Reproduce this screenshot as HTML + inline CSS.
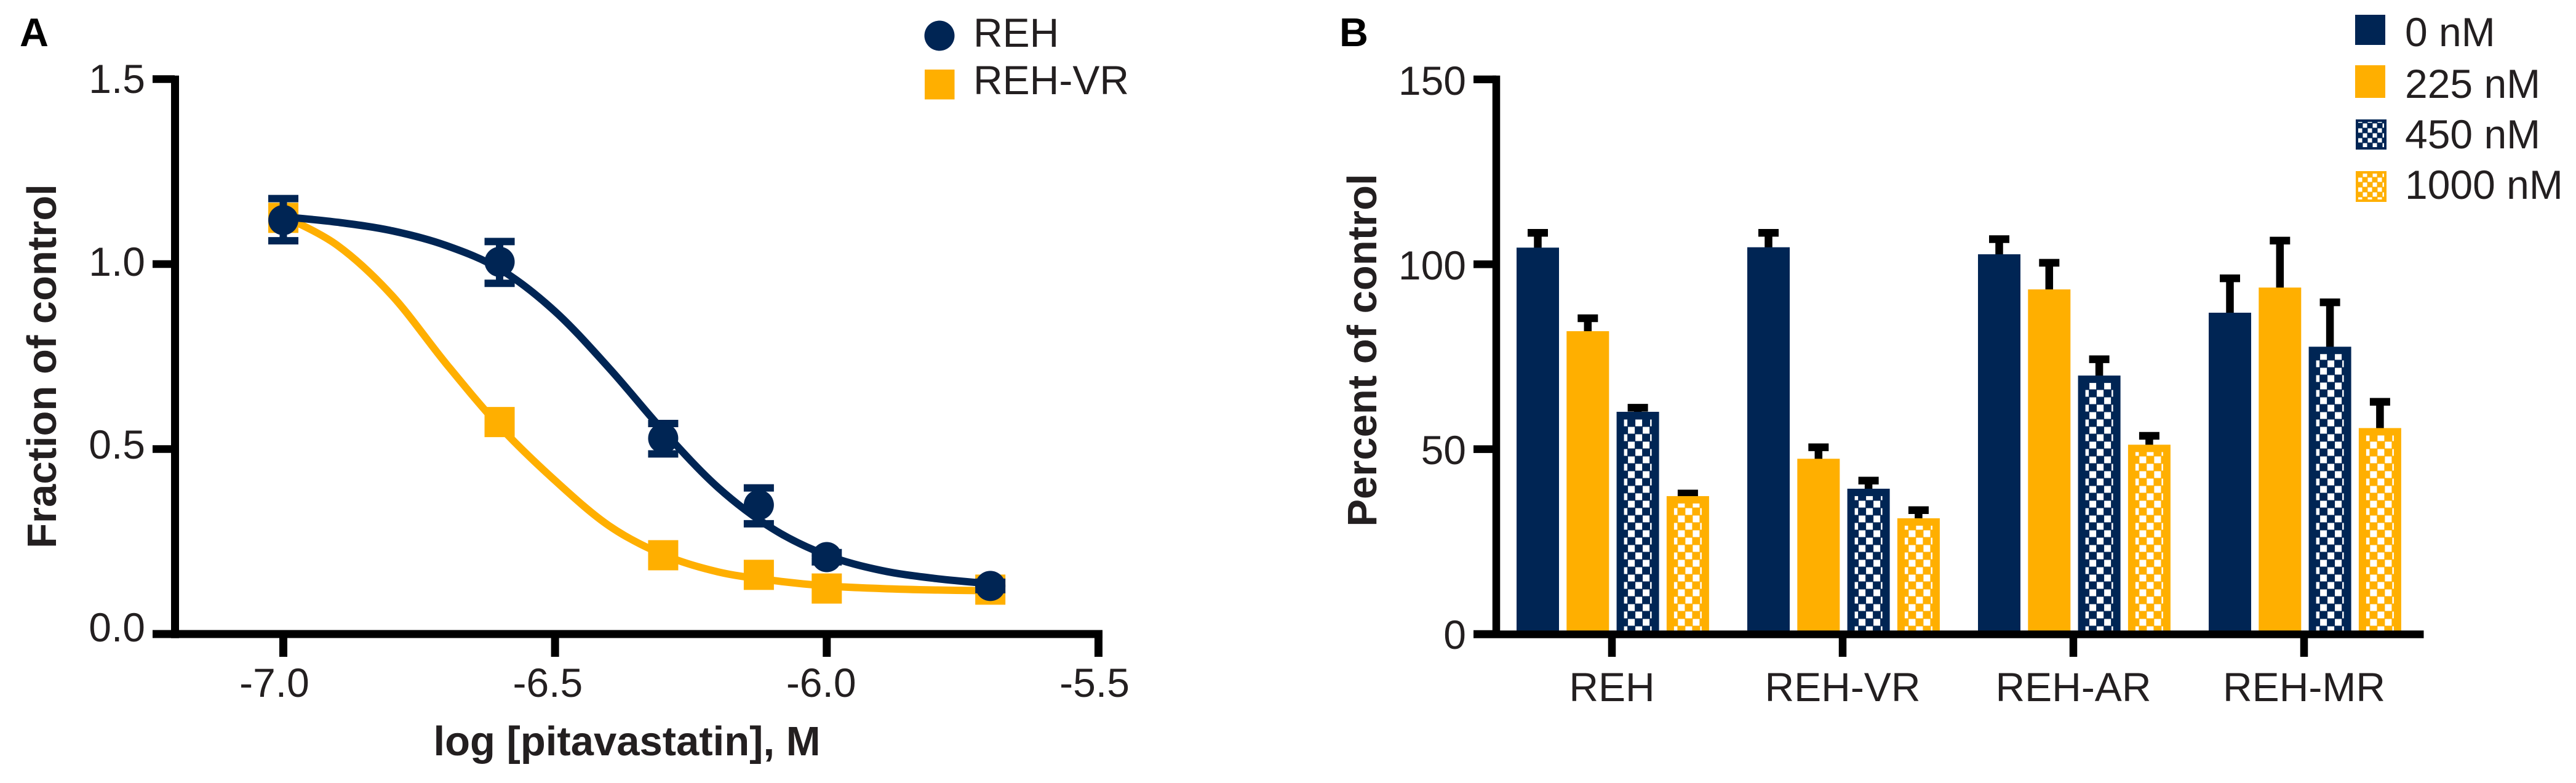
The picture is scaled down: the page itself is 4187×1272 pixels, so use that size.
<!DOCTYPE html>
<html lang="en">
<head>
<meta charset="utf-8">
<title>Pitavastatin dose response and percent of control</title>
<style>
html,body{margin:0;padding:0;background:#fff;width:4187px;height:1272px;overflow:hidden}
svg{display:block}
text{font-family:"Liberation Sans",Arial,sans-serif;fill:#231f20}
.t{font-size:66px}
.b{font-size:67px;font-weight:700}
.p{font-size:65px;font-weight:700;fill:#000}
</style>
</head>
<body>
<svg id="figure" xmlns="http://www.w3.org/2000/svg" width="4187" height="1272" viewBox="0 0 4187 1272">
  <defs>
    <pattern id="chk-navy" x="6" y="-25" width="24" height="24" patternUnits="userSpaceOnUse">
      <rect width="24" height="24" fill="#002554"/>
      <rect x="12.5" y="0.5" width="11" height="11" fill="#fff"/>
      <rect x="0.5" y="12.5" width="11" height="11" fill="#fff"/>
    </pattern>
    <pattern id="chk-orange" x="6" y="-25" width="24" height="24" patternUnits="userSpaceOnUse">
      <rect width="24" height="24" fill="#ffaf00"/>
      <rect x="12.5" y="0.5" width="11" height="11" fill="#fff"/>
      <rect x="0.5" y="12.5" width="11" height="11" fill="#fff"/>
    </pattern>
    <pattern id="chk-navy-s" x="0" y="0" width="16" height="16" patternUnits="userSpaceOnUse">
      <rect width="16" height="16" fill="#002554"/>
      <rect x="8.5" y="0.5" width="7" height="7" fill="#fff"/>
      <rect x="0.5" y="8.5" width="7" height="7" fill="#fff"/>
    </pattern>
    <pattern id="chk-orange-s" x="0" y="0" width="16" height="16" patternUnits="userSpaceOnUse">
      <rect width="16" height="16" fill="#ffaf00"/>
      <rect x="8.5" y="0.5" width="7" height="7" fill="#fff"/>
      <rect x="0.5" y="8.5" width="7" height="7" fill="#fff"/>
    </pattern>
  </defs>

  <text class="p" x="32" y="75">A</text>
  <text class="p" x="2177" y="75">B</text>

  <text class="b" transform="translate(91,595) rotate(-90)" text-anchor="middle">Fraction of control</text>
  <text class="b" x="1019" y="1227" text-anchor="middle">log [pitavastatin], M</text>
  <text class="b" transform="translate(2237,569) rotate(-90)" text-anchor="middle">Percent of control</text>

  <g>
    <circle cx="1527" cy="58" r="24.5" fill="#002554"/>
    <text class="t" x="1582" y="76">REH</text>
    <rect x="1503" y="113" width="48.5" height="48.5" fill="#ffaf00"/>
    <text class="t" x="1582" y="153">REH-VR</text>
  </g>

  <g>
    <rect x="3828" y="24" width="49" height="49" fill="#002554"/>
    <text class="t" x="3909" y="75">0 nM</text>
    <rect x="3828" y="106" width="49" height="53" fill="#ffaf00"/>
    <text class="t" x="3909" y="159">225 nM</text>
    <rect x="3829" y="194" width="50" height="49" fill="#002554"/>
    <rect x="3833" y="198" width="42" height="41" fill="url(#chk-navy-s)"/>
    <text class="t" x="3909" y="241">450 nM</text>
    <rect x="3829" y="278" width="50" height="50" fill="#ffaf00"/>
    <rect x="3833" y="282" width="42" height="42" fill="url(#chk-orange-s)"/>
    <text class="t" x="3909" y="323">1000 nM</text>
  </g>
</svg>

<script>
// ---------- Panel A data ----------
const doseLog = [-7, -6.602, -6.301, -6.125, -6, -5.699];
const rehMean = [1.119, 1.006, 0.529, 0.349, 0.208, 0.130];
const rehUpper = [1.177, 1.061, 0.569, 0.395, 0.220, 0.140];
const rehLower = [1.063, 0.948, 0.487, 0.298, 0.195, 0.120];
const vrMean = [1.125, 0.573, 0.213, 0.160, 0.123, 0.120];

const curveX = [-7, -6.9, -6.8, -6.7, -6.6, -6.5, -6.4, -6.3, -6.2, -6.1, -6, -5.9, -5.8, -5.699];
const rehCurveY = [1.128, 1.113, 1.090, 1.050, 0.985, 0.872, 0.718, 0.548, 0.396, 0.285, 0.213, 0.172, 0.150, 0.136];
const vrCurveY = [1.130, 1.050, 0.915, 0.730, 0.558, 0.415, 0.292, 0.214, 0.168, 0.145, 0.130, 0.123, 0.119, 0.117];

const xTicksA = [-7, -6.5, -6, -5.5];
const xTickLabelsA = ['-7.0', '-6.5', '-6.0', '-5.5'];
const yTicksA = [0, 0.5, 1, 1.5];
const yTickLabelsA = ['0.0', '0.5', '1.0', '1.5'];

// ---------- Panel B data ----------
const cellLines = ['REH', 'REH-VR', 'REH-AR', 'REH-MR'];
const conc0 = [104.5, 104.6, 102.7, 86.9];
const conc225 = [81.9, 47.4, 93.2, 93.7];
const conc450 = [60.1, 39.3, 69.9, 77.7];
const conc1000 = [37.3, 31.3, 51.2, 55.7];
const conc0Upper = [108.5, 108.5, 106.8, 96.2];
const conc225Upper = [85.4, 50.5, 100.4, 106.4];
const conc450Upper = [61.2, 41.5, 74.3, 89.7];
const conc1000Upper = [38.0, 33.5, 53.6, 62.8];
const yTicksB = [0, 50, 100, 150];
const yTickLabelsB = ['0', '50', '100', '150'];

// ---------- Axis functions ----------
const NAVY = '#002554', ORANGE = '#ffaf00', BLACK = '#000';
const xA = v => 460.5 + (v + 7) * 883.3;
const yA = v => 1030 - v * 601;
const xLabelA = v => 446 + (v + 7) * 888.7;
const yLabelA = v => 1042 - v * 594;
const yB = v => 1030 - v * 6.007;
const yLabelB = v => 1054 - v * 6;
const catCenter = i => 2620 + i * 375;
const barX = (i, j) => 2465 + i * 375 + j * 81.3;

const svg = document.getElementById('figure');
const NS = 'http://www.w3.org/2000/svg';
function make(tag, attrs, parent) {
  const el = document.createElementNS(NS, tag);
  for (const k in attrs) el.setAttribute(k, attrs[k]);
  (parent || svg).appendChild(el);
  return el;
}
function smooth(xs, ys) {
  const p = xs.map((x, i) => [x, ys[i]]);
  let d = 'M' + p[0][0] + ' ' + p[0][1];
  for (let i = 0; i < p.length - 1; i++) {
    const a = p[Math.max(i - 1, 0)], b = p[i], c = p[i + 1], e = p[Math.min(i + 2, p.length - 1)];
    d += ' C' + (b[0] + (c[0] - a[0]) / 6) + ' ' + (b[1] + (c[1] - a[1]) / 6) + ' ' +
         (c[0] - (e[0] - b[0]) / 6) + ' ' + (c[1] - (e[1] - b[1]) / 6) + ' ' + c[0] + ' ' + c[1];
  }
  return d;
}

// ---------- Panel A marks ----------
const gA = make('g', {});



const vrLine = make('path', {d: smooth(curveX.map(xA), vrCurveY.map(yA)), fill: 'none', stroke: ORANGE, 'stroke-width': 12}, gA);



doseLog.forEach((d, i) => {
  const s = make('rect', {x: xA(d) - 24.5, y: yA(vrMean[i]) - 24.5, width: 49, height: 49, fill: ORANGE}, gA);
  
  
});

const rehLine = make('path', {d: smooth(curveX.map(xA), rehCurveY.map(yA)), fill: 'none', stroke: NAVY, 'stroke-width': 12}, gA);



doseLog.forEach((d, i) => {
  const cx = xA(d), up = yA(rehUpper[i]), lo = yA(rehLower[i]);
  const err = make('path', {
    d: 'M' + cx + ' ' + up + 'V' + lo + 'M' + (cx - 24.5) + ' ' + up + 'H' + (cx + 24.5) + 'M' + (cx - 24.5) + ' ' + lo + 'H' + (cx + 24.5),
    fill: 'none', stroke: NAVY, 'stroke-width': 12
  }, gA);
  
  
  const c = make('circle', {cx: cx, cy: yA(rehMean[i]), r: 24.5, fill: NAVY}, gA);
  
  
});

// Panel A axes
const axisA = make('path', {d: 'M284.5 122.7V1036.7M248 1030H1792', fill: 'none', stroke: BLACK, 'stroke-width': 13});



xTicksA.forEach((v, i) => {
  const t = make('rect', {x: xA(v) - 6.5, y: 1030, width: 13, height: 37, fill: BLACK});
  
  
  const l = make('text', {x: xLabelA(v), y: 1132, 'text-anchor': 'middle', 'class': 't'});
  l.textContent = xTickLabelsA[i];
  
  
});
yTicksA.forEach((v, i) => {
  const t = make('rect', {x: 248, y: yA(v) - 6.25, width: 36, height: 12.5, fill: BLACK});
  
  
  const l = make('text', {x: 236, y: yLabelA(v), 'text-anchor': 'end', 'class': 't'});
  l.textContent = yTickLabelsA[i];
  
  
});

// ---------- Panel B marks ----------
const gB = make('g', {});



const seriesMeans = [conc0, conc225, conc450, conc1000];
const seriesUpper = [conc0Upper, conc225Upper, conc450Upper, conc1000Upper];
const seriesColor = [NAVY, ORANGE, NAVY, ORANGE];
const seriesPattern = [null, null, 'url(#chk-navy)', 'url(#chk-orange)'];
const BAR_W = 69;

seriesMeans.forEach((vals, j) => {
  vals.forEach((v, i) => {
    const x = barX(i, j), top = yB(v), cx = x + BAR_W / 2, up = yB(seriesUpper[j][i]);
    const err = make('path', {
      d: 'M' + cx + ' ' + (top + 2) + 'V' + up + 'M' + (cx - 16.5) + ' ' + up + 'H' + (cx + 16.5),
      fill: 'none', stroke: BLACK, 'stroke-width': 12.5
    }, gB);
    
    

    const bar = make('rect', {x: x, y: top, width: BAR_W, height: 1030 - top, fill: seriesColor[j]}, gB);
    
    

    if (seriesPattern[j]) {
      const g = make('g', {transform: 'translate(' + x + ',1030)'}, gB);
      
      
      const inner = make('rect', {x: 12, y: top + 12 - 1030, width: 45, height: 1030 - top - 12, fill: seriesPattern[j]}, g);
      
      
    }
  });
});

// Panel B axes
const axisB = make('path', {d: 'M2432 122.7V1036.7M2395 1030.5H3939.5', fill: 'none', stroke: BLACK, 'stroke-width': 12.5});



cellLines.forEach((name, i) => {
  const t = make('rect', {x: catCenter(i) - 6.25, y: 1030, width: 12.5, height: 37, fill: BLACK});
  
  
  const l = make('text', {x: catCenter(i), y: 1139, 'text-anchor': 'middle', 'class': 't'});
  l.textContent = name;
  
  
});
yTicksB.forEach((v, i) => {
  const t = make('rect', {x: 2395, y: yB(v) - 6.25, width: 37, height: 12.5, fill: BLACK});
  
  
  const l = make('text', {x: 2383, y: yLabelB(v), 'text-anchor': 'end', 'class': 't'});
  l.textContent = yTickLabelsB[i];
  
  
});
</script>
</body>
</html>
